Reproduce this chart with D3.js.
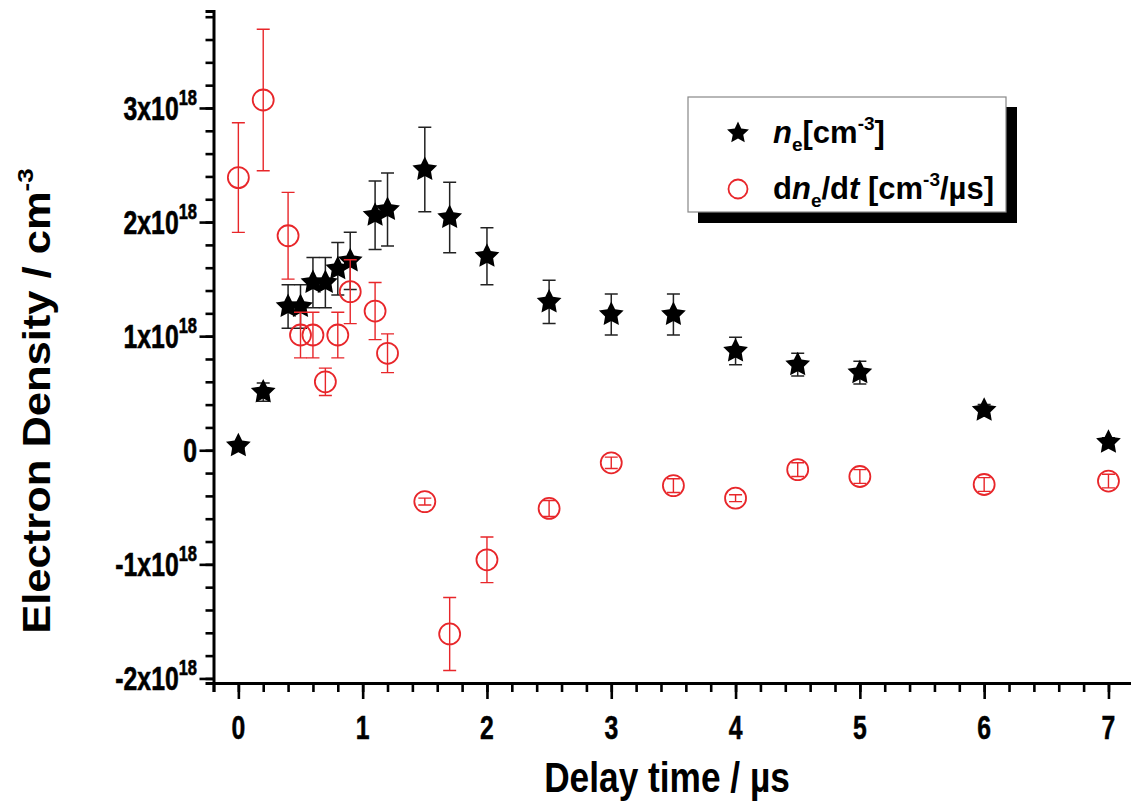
<!DOCTYPE html>
<html><head><meta charset="utf-8">
<script src="https://cdn.jsdelivr.net/npm/d3@7"></script>
<style>
html,body{margin:0;padding:0;background:#fff;}
svg{display:block;}
text{font-family:"Liberation Sans",Arial,Helvetica,sans-serif;font-weight:bold;fill:#000;}
</style></head>
<body>
<svg id="chart" width="1131" height="801"></svg>
<script>
// ---- data (values in units of 1e18) ----
const timeNe = [0, 0.2, 0.4, 0.5, 0.6, 0.7, 0.8, 0.9, 1.1, 1.2, 1.5, 1.7, 2.0, 2.5, 3.0, 3.5, 4.0, 4.5, 5.0, 6.0, 7.0];
const neValues = [0.04, 0.51, 1.26, 1.26, 1.47, 1.47, 1.59, 1.66, 2.06, 2.11, 2.46, 2.04, 1.70, 1.30, 1.19, 1.19, 0.87, 0.75, 0.68, 0.35, 0.07];
const neErrors = [0.02, 0.08, 0.19, 0.19, 0.22, 0.22, 0.23, 0.25, 0.30, 0.32, 0.37, 0.31, 0.25, 0.19, 0.18, 0.18, 0.12, 0.10, 0.10, 0.05, 0.04];

const timeRate = [0, 0.2, 0.4, 0.5, 0.6, 0.7, 0.8, 0.9, 1.1, 1.2, 1.5, 1.7, 2.0, 2.5, 3.0, 3.5, 4.0, 4.5, 5.0, 6.0, 7.0];
const rateValues = [2.39, 3.07, 1.88, 1.01, 1.01, 0.60, 1.01, 1.39, 1.22, 0.85, -0.45, -1.61, -0.96, -0.51, -0.11, -0.31, -0.42, -0.17, -0.23, -0.30, -0.27];
const rateErrors = [0.48, 0.62, 0.38, 0.20, 0.20, 0.12, 0.20, 0.28, 0.25, 0.17, 0.03, 0.32, 0.20, 0.07, 0.05, 0.06, 0.03, 0.06, 0.06, 0.06, 0.06];

const xTickValues = [0, 1, 2, 3, 4, 5, 6, 7];
const xTickLabels = ["0", "1", "2", "3", "4", "5", "6", "7"];
const yTickValues = [-2, -1, 0, 1, 2, 3];
const yTickMantissa = ["-2x10", "-1x10", "0", "1x10", "2x10", "3x10"];
const yTickExponent = ["18", "18", "", "18", "18", "18"];

const svg = d3.select("#chart");
const plotLeft = 213.5, plotBottom = 683, plotTop = 11;
const x = d3.scaleLinear().domain([-0.2, 7.2]).range([plotLeft, plotLeft + 124.3 * 7.4]);
const y = d3.scaleLinear().domain([-2.04, 3.85]).range([plotBottom, plotTop]);

const red = "#e8262a";

// ---- axes ----
const xMinor = d3.range(-0.2, 7.21, 0.2).map(v => Math.round(v * 10) / 10);
const yMinor = d3.range(-2.0, 3.81, 0.2).map(v => Math.round(v * 10) / 10);

const gx = svg.append("g").attr("transform", `translate(0,${plotBottom})`);
gx.call(d3.axisBottom(x).tickValues(xMinor).tickSize(9).tickFormat(""));
const gx2 = gx.append("g").call(d3.axisBottom(x).tickValues(xTickValues).tickSize(16).tickFormat(""));
gx2.select(".domain").remove();
gx.selectAll(".domain").attr("stroke", "#000").attr("stroke-width", 3);
gx.selectAll(".tick line").attr("stroke", "#000").attr("stroke-width", 2.6);

const gy = svg.append("g").attr("transform", `translate(${plotLeft},0)`);
gy.call(d3.axisLeft(y).tickValues(yMinor).tickSize(8).tickFormat(""));
const gy2 = gy.append("g").call(d3.axisLeft(y).tickValues(yTickValues).tickSize(14).tickFormat(""));
gy2.select(".domain").remove();
gy.selectAll(".domain").attr("stroke", "#000").attr("stroke-width", 3);
gy.selectAll(".tick line").attr("stroke", "#000").attr("stroke-width", 2.6);

// x tick labels
svg.append("g").selectAll("text").data(xTickValues).join("text")
  .attr("transform", d => `translate(${x(d)},739) scale(0.75,1)`)
  .attr("text-anchor", "middle").attr("font-size", 33)
  .attr("stroke", "#000").attr("stroke-width", 0.5)
  .text((d, i) => xTickLabels[i]);

// y tick labels
const yl = svg.append("g").selectAll("g").data(yTickValues).join("g")
  .attr("transform", d => `translate(197,${y(d) + 12}) scale(0.75,1)`);
yl.append("text").attr("text-anchor", "end").attr("font-size", 33)
  .attr("stroke", "#000").attr("stroke-width", 0.6)
  .each(function (d, i) {
    const t = d3.select(this);
    t.append("tspan").text(yTickMantissa[i]);
    if (yTickExponent[i]) t.append("tspan").attr("font-size", 22).attr("dy", -15).text(yTickExponent[i]);
  });

// axis titles
svg.append("text").attr("transform", "translate(667,792) scale(0.84,1)")
  .attr("text-anchor", "middle").attr("font-size", 42)
  .text("Delay time / µs");
const yt = svg.append("text").attr("transform", "translate(50,401) scale(0.87,1) rotate(-90)")
  .attr("text-anchor", "middle").attr("font-size", 43.5);
yt.append("tspan").text("Electron Density / cm");
yt.append("tspan").attr("font-size", 26).attr("dy", -19).text("-3");

// ---- star path ----
function starPath(R, ratio) {
  const pts = d3.range(10).map(i => [i * Math.PI / 5, i % 2 === 0 ? R : R * ratio]);
  return d3.lineRadial().curve(d3.curveLinearClosed)(pts);
}
const star = starPath(13, 0.5);

// ---- n_e series ----
const neData = timeNe.map((t, i) => ({t, v: neValues[i], e: neErrors[i]}));
const gne = svg.append("g");
const cap = 6.5;
gne.selectAll("path.err").data(neData).join("path").attr("class", "err")
  .attr("fill", "none").attr("stroke", "#222").attr("stroke-width", 1.5)
  .attr("d", d => {
    const cx = x(d.t), y1 = y(d.v + d.e), y2 = y(d.v - d.e);
    return `M${cx},${y1}V${y2}M${cx - cap},${y1}H${cx + cap}M${cx - cap},${y2}H${cx + cap}`;
  });
gne.selectAll("path.star").data(neData).join("path").attr("class", "star")
  .attr("transform", d => `translate(${x(d.t)},${y(d.v)})`)
  .attr("d", star).attr("fill", "#000");

// ---- dn_e/dt series ----
const rData = timeRate.map((t, i) => ({t, v: rateValues[i], e: rateErrors[i]}));
const gr = svg.append("g");
gr.selectAll("path.err").data(rData).join("path").attr("class", "err")
  .attr("fill", "none").attr("stroke", red).attr("stroke-width", 1.4)
  .attr("d", d => {
    const cx = x(d.t), y1 = y(d.v + d.e), y2 = y(d.v - d.e);
    return `M${cx},${y1}V${y2}M${cx - cap},${y1}H${cx + cap}M${cx - cap},${y2}H${cx + cap}`;
  });
gr.selectAll("circle").data(rData).join("circle")
  .attr("cx", d => x(d.t)).attr("cy", d => y(d.v)).attr("r", 10.5)
  .attr("fill", "none").attr("stroke", red).attr("stroke-width", 1.8);

// ---- legend ----
const lg = svg.append("g");
lg.append("rect").attr("x", 698).attr("y", 107).attr("width", 319).attr("height", 116).attr("fill", "#000");
lg.append("rect").attr("x", 688).attr("y", 97).attr("width", 318).attr("height", 115)
  .attr("fill", "#fff").attr("stroke", "#888").attr("stroke-width", 1.2);
lg.append("path").attr("d", starPath(11.5, 0.48)).attr("transform", "translate(738,133)").attr("fill", "#000");
lg.append("circle").attr("cx", 738).attr("cy", 189).attr("r", 9.5).attr("fill", "none").attr("stroke", red).attr("stroke-width", 1.8);

const l1 = lg.append("text").attr("x", 773).attr("y", 143).attr("font-size", 31);
l1.append("tspan").attr("font-style", "italic").text("n");
l1.append("tspan").attr("font-size", 19).attr("dy", 8).text("e");
l1.append("tspan").attr("dy", -8).text("[cm");
l1.append("tspan").attr("font-size", 19).attr("dy", -13).text("-3");
l1.append("tspan").attr("dy", 13).text("]");

const l2 = lg.append("text").attr("x", 773).attr("y", 199).attr("font-size", 31);
l2.append("tspan").text("d");
l2.append("tspan").attr("font-style", "italic").text("n");
l2.append("tspan").attr("font-size", 19).attr("dy", 8).text("e");
l2.append("tspan").attr("dy", -8).text("/d");
l2.append("tspan").attr("font-style", "italic").text("t");
l2.append("tspan").text(" [cm");
l2.append("tspan").attr("font-size", 19).attr("dy", -13).text("-3");
l2.append("tspan").attr("dy", 13).text("/µs]");
</script>
</body></html>
